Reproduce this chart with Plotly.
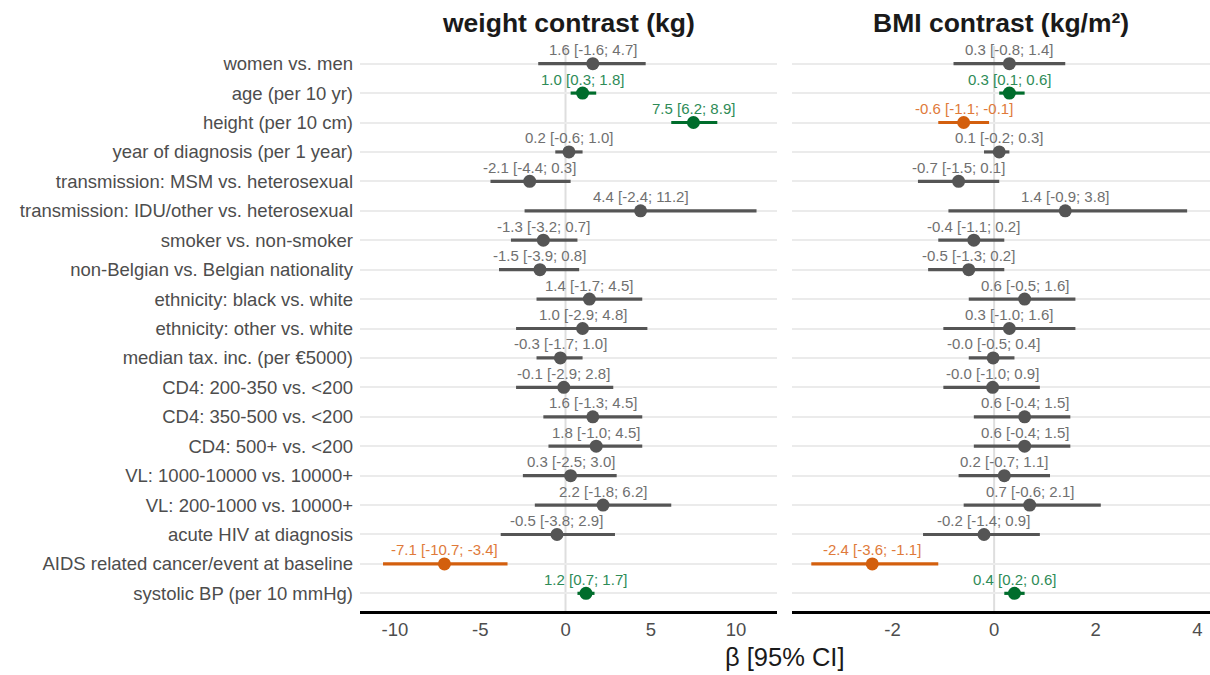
import plotly.graph_objects as go

categories = [
    "women vs. men", "age (per 10 yr)", "height (per 10 cm)",
    "year of diagnosis (per 1 year)", "transmission: MSM vs. heterosexual",
    "transmission: IDU/other vs. heterosexual", "smoker vs. non-smoker",
    "non-Belgian vs. Belgian nationality", "ethnicity: black vs. white",
    "ethnicity: other vs. white", "median tax. inc. (per €5000)",
    "CD4: 200-350 vs. <200", "CD4: 350-500 vs. <200", "CD4: 500+ vs. <200",
    "VL: 1000-10000 vs. 10000+", "VL: 200-1000 vs. 10000+",
    "acute HIV at diagnosis", "AIDS related cancer/event at baseline",
    "systolic BP (per 10 mmHg)",
]

weight_est = [1.6, 1.0, 7.5, 0.2, -2.1, 4.4, -1.3, -1.5, 1.4, 1.0, -0.3, -0.1, 1.6, 1.8, 0.3, 2.2, -0.5, -7.1, 1.2]
weight_lo = [-1.6, 0.3, 6.2, -0.6, -4.4, -2.4, -3.2, -3.9, -1.7, -2.9, -1.7, -2.9, -1.3, -1.0, -2.5, -1.8, -3.8, -10.7, 0.7]
weight_hi = [4.7, 1.8, 8.9, 1.0, 0.3, 11.2, 0.7, 0.8, 4.5, 4.8, 1.0, 2.8, 4.5, 4.5, 3.0, 6.2, 2.9, -3.4, 1.7]

bmi_est = [0.3, 0.3, -0.6, 0.1, -0.7, 1.4, -0.4, -0.5, 0.6, 0.3, -0.02, -0.03, 0.6, 0.6, 0.2, 0.7, -0.2, -2.4, 0.4]
bmi_lo = [-0.8, 0.1, -1.1, -0.2, -1.5, -0.9, -1.1, -1.3, -0.5, -1.0, -0.5, -1.0, -0.4, -0.4, -0.7, -0.6, -1.4, -3.6, 0.2]
bmi_hi = [1.4, 0.6, -0.1, 0.3, 0.1, 3.8, 0.2, 0.2, 1.6, 1.6, 0.4, 0.9, 1.5, 1.5, 1.1, 2.1, 0.9, -1.1, 0.6]

panel_titles = ["weight contrast (kg)", "BMI contrast (kg/m²)"]
x_title = "β [95% CI]"
x_ticks_left = [-10, -5, 0, 5, 10]
x_ticks_right = [-2, 0, 2, 4]

FONT = "Liberation Sans, Arial, sans-serif"
LINE_COL = {"ns": "#555555", "pos": "#006d2c", "neg": "#d35f0e"}
TEXT_COL = {"ns": "#707070", "pos": "#2e8b57", "neg": "#e07a3a"}


def sig(lo, hi):
    if lo > 0:
        return "pos"
    if hi < 0:
        return "neg"
    return "ns"


fig = go.Figure()
ypos = list(range(1, len(categories) + 1))

panels = [
    (weight_est, weight_lo, weight_hi, "x", "y"),
    (bmi_est, bmi_lo, bmi_hi, "x2", "y2"),
]

annotations = []
for est, lo, hi, xa, ya in panels:
    groups = {"ns": [], "pos": [], "neg": []}
    for i in range(len(est)):
        groups[sig(lo[i], hi[i])].append(i)
    for key, idx in groups.items():
        if not idx:
            continue
        fig.add_trace(go.Scatter(
            x=[est[i] for i in idx], y=[ypos[i] for i in idx],
            mode="markers",
            marker=dict(size=13, color=LINE_COL[key]),
            error_x=dict(type="data", symmetric=False,
                         array=[hi[i] - est[i] for i in idx],
                         arrayminus=[est[i] - lo[i] for i in idx],
                         width=0, thickness=3.2, color=LINE_COL[key]),
            xaxis=xa, yaxis=ya, showlegend=False, hoverinfo="skip",
        ))
    for i in range(len(est)):
        key = sig(lo[i], hi[i])
        annotations.append(dict(
            x=est[i], y=ypos[i], xref=xa, yref=ya,
            text=f"{est[i]:.1f} [{lo[i]:.1f}; {hi[i]:.1f}]",
            showarrow=False, yshift=14,
            font=dict(family=FONT, size=15, color=TEXT_COL[key]),
        ))

# panel titles
for k, xa in enumerate(["x", "x2"]):
    annotations.append(dict(x=0.5, y=1.0, xref=f"{xa} domain", yref="paper", yanchor="bottom",
                            yshift=6, text=f"<b>{panel_titles[k]}</b>", showarrow=False,
                            font=dict(family=FONT, size=26.5, color="#1a1a1a")))

left_dom = [0, (777 - 360) / 850]
right_dom = [(792 - 360) / 850, 1.0]

# x axis title
annotations.append(dict(x=(785 - 360) / 850, y=0, xref="paper", yref="paper", showarrow=False,
                        text=x_title, yshift=-46, xanchor="center", yanchor="middle",
                        font=dict(family=FONT, size=25.5, color="#1a1a1a")))

shapes = []
for xa in ["x", "x2"]:
    shapes.append(dict(type="line", xref=xa, yref="paper", x0=0, x1=0, y0=0, y1=1,
                       line=dict(color="#dedede", width=2), layer="below"))

axis_common = dict(showgrid=False, zeroline=False, showline=True, linecolor="black",
                   linewidth=3, ticks="", automargin=False, tickmode="array",
                   tickfont=dict(family=FONT, size=18.5, color="#4d4d4d"))
yaxis_common = dict(range=[19.6, 0.4], tickmode="array", tickvals=ypos, showgrid=True,
                    gridcolor="#ebebeb", gridwidth=2, zeroline=False, showline=False,
                    ticks="", automargin=False)

fig.update_layout(
    width=1210, height=675,
    margin=dict(l=360, r=0, t=46, b=64),
    paper_bgcolor="white", plot_bgcolor="white",
    xaxis=dict(domain=left_dom, range=[-12.05, 12.4], tickvals=x_ticks_left,
               ticktext=[str(v) for v in x_ticks_left], anchor="y", **axis_common),
    xaxis2=dict(domain=right_dom, range=[-3.98, 4.25], tickvals=x_ticks_right,
                ticktext=[str(v) for v in x_ticks_right], anchor="y2", **axis_common),
    yaxis=dict(ticktext=categories, anchor="x", ticklabelstandoff=6,
               tickfont=dict(family=FONT, size=18.5, color="#4d4d4d"), **yaxis_common),
    yaxis2=dict(showticklabels=False, anchor="x2", matches="y", **yaxis_common),
    annotations=annotations, shapes=shapes,
    font=dict(family=FONT),
)

fig.write_html(
    "out.html",
    config={"displayModeBar": False, "staticPlot": True},
    post_script="document.body.style.margin='0';document.body.style.overflow='hidden';",
)
